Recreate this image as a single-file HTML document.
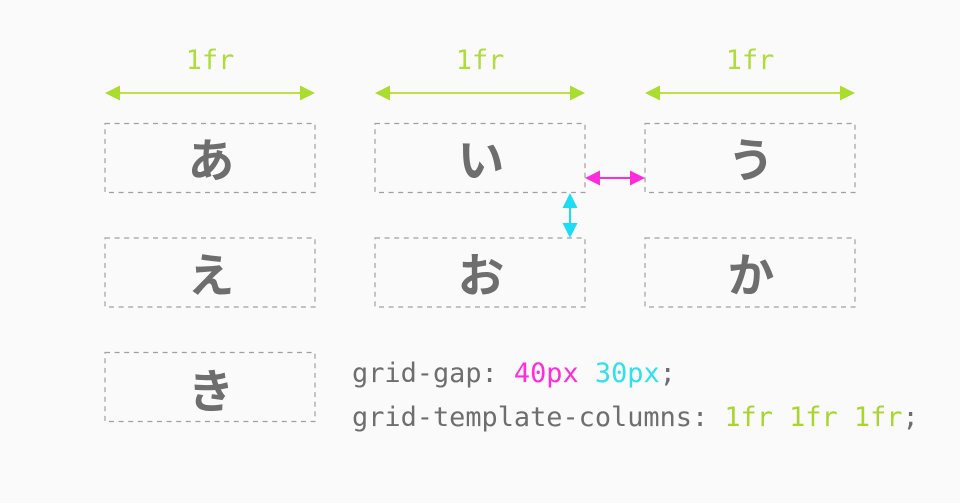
<!DOCTYPE html>
<html><head><meta charset="utf-8"><style>
html,body{margin:0;padding:0;background:#fafafa}
svg{display:block}
.j{font-family:"Liberation Sans","Noto Sans CJK JP",sans-serif;font-weight:700;font-size:46.500px;fill:#6e6e6e;text-anchor:middle}
.m{font-family:"DejaVu Sans Mono",monospace;font-size:26.9px;fill:#6e6e6e}
.l{font-family:"DejaVu Sans Mono",monospace;font-size:26.9px;fill:#b0dc3c;text-anchor:middle}
rect.b{fill:none;stroke:#a0a0a0;stroke-width:1.2;stroke-dasharray:5 4.6}
</style></head><body>
<svg width="960" height="503" viewBox="0 0 960 503" xmlns="http://www.w3.org/2000/svg">
<rect width="960" height="503" fill="#fafafa"/>
<text class="l" x="210" y="69">1fr</text>
<text class="l" x="480" y="69">1fr</text>
<text class="l" x="750" y="69">1fr</text>
<g fill="#a9de2e" stroke="none">
<rect x="118" y="92" width="185" height="2" fill="#bfe040"/>
<polygon points="105,93 120,85.5 120,100.5"/><polygon points="315,93 300,85.5 300,100.5"/>
<rect x="388" y="92" width="185" height="2" fill="#bfe040"/>
<polygon points="375,93 390,85.5 390,100.5"/><polygon points="585,93 570,85.5 570,100.5"/>
<rect x="658" y="92" width="185" height="2" fill="#bfe040"/>
<polygon points="645,93 660,85.5 660,100.5"/><polygon points="855,93 840,85.5 840,100.5"/>
</g>
<rect class="b" x="105" y="123.500" width="210" height="69"/>
<rect class="b" x="375" y="123.500" width="210" height="69"/>
<rect class="b" x="645" y="123.500" width="210" height="69"/>
<rect class="b" x="105" y="238" width="210" height="69"/>
<rect class="b" x="375" y="238" width="210" height="69"/>
<rect class="b" x="645" y="238" width="210" height="69"/>
<rect class="b" x="105" y="352.500" width="210" height="69"/>
<text class="j" x="211" y="177">あ</text>
<text class="j" x="481" y="177">い</text>
<text class="j" x="751" y="177">う</text>
<text class="j" x="211" y="292">え</text>
<text class="j" x="481" y="292">お</text>
<text class="j" x="751" y="292">か</text>
<text class="j" x="211" y="408">き</text>
<g fill="#ff2bdc">
<rect x="598" y="177" width="35" height="2"/>
<polygon points="585,178 600,170.500 600,185.500"/><polygon points="645,178 630,170.500 630,185.500"/>
</g>
<g fill="#1fdcf5">
<rect x="569" y="205" width="2" height="21"/>
<polygon points="570,193 562.500,208 577.500,208"/><polygon points="570,238 562.500,223 577.500,223"/>
</g>
<text class="m" y="382" x="352">grid-gap: <tspan fill="#ff2bdc">40px</tspan> <tspan fill="#2fe0f0">30px</tspan>;</text>
<text class="m" y="426" x="352">grid-template-columns: <tspan fill="#a9d62e">1fr 1fr 1fr</tspan>;</text>
</svg>
</body></html>
